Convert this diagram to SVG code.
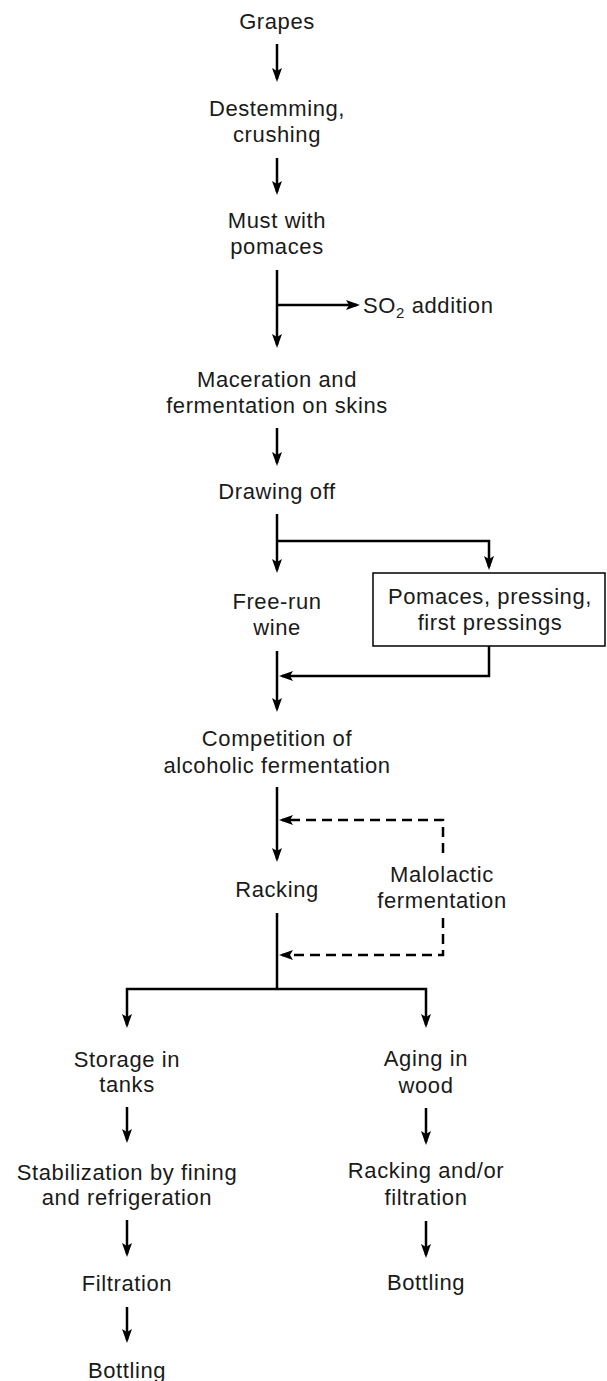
<svg xmlns="http://www.w3.org/2000/svg" width="607" height="1381" viewBox="0 0 607 1381">
<style>
text{font-family:"Liberation Sans",Arial,sans-serif;font-size:22px;letter-spacing:0.6px;fill:#1a1a1a;text-anchor:middle}
.l{stroke:#000;stroke-width:2.5;fill:none}
.d{stroke:#000;stroke-width:2.5;fill:none;stroke-dasharray:10 6}
.box{fill:#fff;stroke:#000;stroke-width:1.5}
</style>
<defs>
<marker id="ah" viewBox="0 0 14 10" refX="11" refY="5" markerWidth="14" markerHeight="10" markerUnits="userSpaceOnUse" orient="auto">
<path d="M0,0 L14,5 L0,10 L3,5 z" fill="#000"/>
</marker>
</defs>
<rect width="607" height="1381" fill="#fff"/>
<g id="connectors">
<line class="l" x1="277" y1="44" x2="277" y2="79" marker-end="url(#ah)"/>
<line class="l" x1="277" y1="158" x2="277" y2="192" marker-end="url(#ah)"/>
<line class="l" x1="277" y1="270" x2="277" y2="345" marker-end="url(#ah)"/>
<line class="l" x1="277" y1="305" x2="357" y2="305" marker-end="url(#ah)"/>
<line class="l" x1="277" y1="428" x2="277" y2="463" marker-end="url(#ah)"/>
<line class="l" x1="277" y1="514" x2="277" y2="570" marker-end="url(#ah)"/>
<polyline class="l" points="277,541 489,541 489,567" marker-end="url(#ah)"/>
<line class="l" x1="277" y1="651" x2="277" y2="709" marker-end="url(#ah)"/>
<polyline class="l" points="489,646 489,676 282,676" marker-end="url(#ah)"/>
<line class="l" x1="277" y1="787" x2="277" y2="859" marker-end="url(#ah)"/>
<polyline class="d" points="443,853 443,820 282,820" marker-end="url(#ah)"/>
<line class="l" x1="277" y1="913" x2="277" y2="989"/>
<polyline class="d" points="443,918 443,955 282,955" marker-end="url(#ah)"/>
<polyline class="l" points="277,989 127,989 127,1025" marker-end="url(#ah)"/>
<polyline class="l" points="277,989 426,989 426,1025" marker-end="url(#ah)"/>
<line class="l" x1="127" y1="1107" x2="127" y2="1140" marker-end="url(#ah)"/>
<line class="l" x1="127" y1="1220" x2="127" y2="1254" marker-end="url(#ah)"/>
<line class="l" x1="127" y1="1307" x2="127" y2="1340" marker-end="url(#ah)"/>
<line class="l" x1="426" y1="1108" x2="426" y2="1142" marker-end="url(#ah)"/>
<line class="l" x1="426" y1="1221" x2="426" y2="1255" marker-end="url(#ah)"/>
</g>
<g id="grapes"><text x="277" y="29">Grapes</text></g>
<g id="destemming"><text x="277" y="116">Destemming,</text><text x="277" y="142">crushing</text></g>
<g id="must"><text x="277" y="228">Must with</text><text x="277" y="254">pomaces</text></g>
<g id="so2"><text x="363" y="313" style="text-anchor:start">SO<tspan font-size="15" dy="5">2</tspan><tspan dy="-5"> addition</tspan></text></g>
<g id="maceration"><text x="277" y="387">Maceration and</text><text x="277" y="413">fermentation on skins</text></g>
<g id="drawing-off"><text x="277" y="499">Drawing off</text></g>
<g id="free-run"><text x="277" y="609">Free-run</text><text x="277" y="635">wine</text></g>
<g id="pressing"><rect class="box" x="373" y="573" width="232" height="73"/><text x="490" y="604">Pomaces, pressing,</text><text x="490" y="630">first pressings</text></g>
<g id="competition"><text x="277" y="746">Competition of</text><text x="277" y="773">alcoholic fermentation</text></g>
<g id="racking"><text x="277" y="897">Racking</text></g>
<g id="malolactic"><text x="442" y="882">Malolactic</text><text x="442" y="908">fermentation</text></g>
<g id="storage"><text x="127" y="1067">Storage in</text><text x="127" y="1092">tanks</text></g>
<g id="aging"><text x="426" y="1066">Aging in</text><text x="426" y="1093">wood</text></g>
<g id="stabilization"><text x="127" y="1180">Stabilization by fining</text><text x="127" y="1205">and refrigeration</text></g>
<g id="racking-filtration"><text x="426" y="1178">Racking and/or</text><text x="426" y="1205">filtration</text></g>
<g id="filtration"><text x="127" y="1291">Filtration</text></g>
<g id="bottling-left"><text x="127" y="1378">Bottling</text></g>
<g id="bottling-right"><text x="426" y="1290">Bottling</text></g>
</svg>
